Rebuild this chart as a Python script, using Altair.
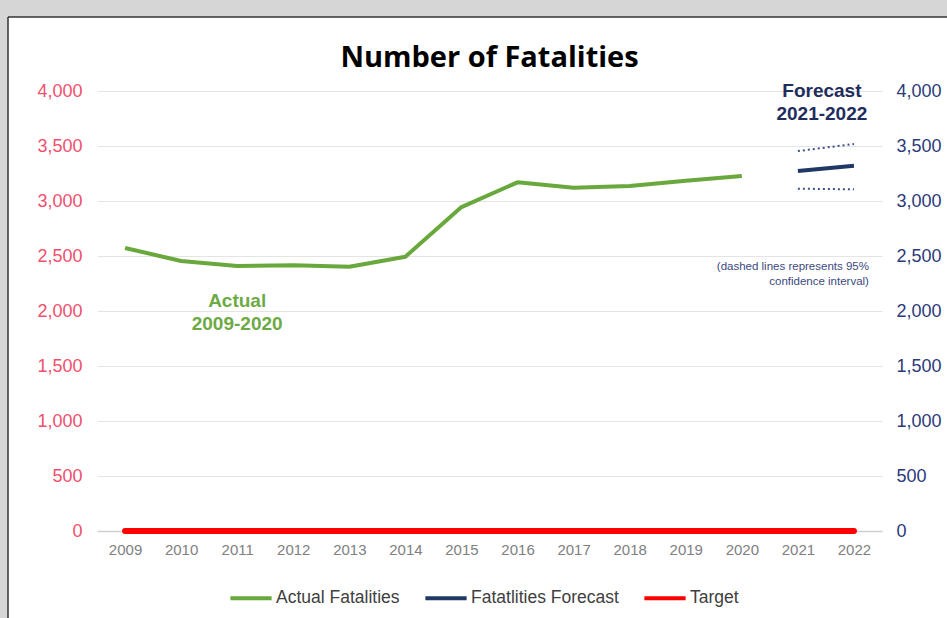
import altair as alt
import pandas as pd

# ---------------- data ----------------
years = [str(y) for y in range(2009, 2023)]
actual_years = years[:12]
actual_values = [2573, 2455, 2409, 2415, 2403, 2494, 2945, 3170, 3121, 3136, 3185, 3227]
forecast_years = ["2021", "2022"]
forecast_values = [3273, 3321]
upper_ci = [3454, 3518]
lower_ci = [3112, 3106]
target_values = [0, 0, 0, 0, 0, 0, 0, 0, 0, 0, 0, 0, 0, 0]
y_ticks = [0, 500, 1000, 1500, 2000, 2500, 3000, 3500, 4000]

series_names = ["Actual Fatalities", "Fatatlities Forecast", "Target"]
series_colors = ["#69A83C", "#1F3864", "#FF0000"]

actual_ann_text = ["Actual", "2009-2020"]
actual_ann_year = ["2011", "2011"]
actual_ann_value = [2091, 1882]

fc_ann_text = ["Forecast", "2021-2022"]
fc_ann_year = ["2021", "2021"]
fc_ann_value = [4000, 3791]

note_text = ["(dashed lines represents 95%", "confidence interval)"]
note_year = ["2022", "2022"]
note_value = [2400, 2264]

# ---------------- tables ----------------
df_actual = pd.DataFrame({"year": actual_years, "value": actual_values, "series": series_names[0]})
df_fc = pd.DataFrame({"year": forecast_years, "value": forecast_values, "series": series_names[1]})
df_target = pd.DataFrame({"year": years, "value": target_values, "series": series_names[2]})
df_ci = pd.concat([
    pd.DataFrame({"year": forecast_years, "value": upper_ci, "band": "upper"}),
    pd.DataFrame({"year": forecast_years, "value": lower_ci, "band": "lower"}),
])
df_ann_a = pd.DataFrame({"year": actual_ann_year, "value": actual_ann_value, "text": actual_ann_text})
df_ann_f = pd.DataFrame({"year": fc_ann_year, "value": fc_ann_value, "text": fc_ann_text})
df_note = pd.DataFrame({"year": note_year, "value": note_value, "text": note_text})

W, H = 785, 440
PL, PT, PR, PB = 97, 91, 65, 87
xscale = alt.Scale(domain=years, type="point", padding=0.5)
yscale = alt.Scale(domain=[0, 4000])

x_axis = alt.Axis(title=None, labelAngle=0, ticks=False, domainColor="#d0d0d0",
                  domainWidth=1.5, labelColor="#808080", labelFontSize=15,
                  labelFont="Liberation Sans", labelPadding=11)
x_enc = alt.X("year:O", scale=xscale, axis=x_axis)

y_left = alt.Y("value:Q", scale=yscale,
               axis=alt.Axis(title=None, values=y_ticks, format=",.0f", ticks=False, domain=False,
                             grid=True, gridColor="#e4e4e4", labelColor="#F0506E",
                             labelFontSize=18, labelFont="Liberation Sans", labelPadding=15))
y_right = alt.Y("value:Q", scale=yscale,
                axis=alt.Axis(title=None, orient="right", values=y_ticks, format=",.0f", ticks=False,
                              domain=False, grid=False, labelColor="#2B3A7A",
                              labelFontSize=18, labelFont="Liberation Sans", labelPadding=14))
y_none = alt.Y("value:Q", scale=yscale, axis=None)

color = alt.Color("series:N", scale=alt.Scale(domain=series_names, range=series_colors),
                  legend=alt.Legend(title=None, orient="none", legendX=131, legendY=484,
                                    direction="horizontal", symbolType="stroke",
                                    symbolSize=1700, symbolStrokeWidth=4, labelFontSize=17.5,
                                    labelFont="Liberation Sans", labelColor="#404040",
                                    labelOffset=2, columnPadding=17))

# decorative screenshot margins (gray strips + dark border lines)
one = pd.DataFrame({"k": [0]})
strip_top = alt.Chart(one).mark_rect(fill="#d6d6d6").encode(
    x=alt.value(-PL), x2=alt.value(W + PR), y=alt.value(-PT), y2=alt.value(-74))
strip_left = alt.Chart(one).mark_rect(fill="#d6d6d6").encode(
    x=alt.value(-PL), x2=alt.value(-89), y=alt.value(-PT), y2=alt.value(H + PB))
border_top = alt.Chart(one).mark_rule(color="#333333", strokeWidth=1.5).encode(
    x=alt.value(-89), x2=alt.value(W + PR), y=alt.value(-74))
border_left = alt.Chart(one).mark_rule(color="#333333", strokeWidth=1.5).encode(
    x=alt.value(-89), y=alt.value(-74), y2=alt.value(H + PB))

actual = alt.Chart(df_actual).mark_line(strokeWidth=4, strokeJoin="round").encode(
    x=x_enc, y=y_left, color=color)
forecast = alt.Chart(df_fc).mark_line(strokeWidth=4).encode(
    x=x_enc, y=y_none, color=color)
ci = alt.Chart(df_ci).mark_line(strokeWidth=2, strokeDash=[2, 3], color="#3C4F8C").encode(
    x=x_enc, y=y_right, detail="band:N")
target = alt.Chart(df_target).mark_line(strokeWidth=6, strokeCap="round").encode(
    x=x_enc, y=y_none, color=color)

ann_a = alt.Chart(df_ann_a).mark_text(fontSize=19, fontWeight="bold", color="#6DAA45",
                                      font="Liberation Sans").encode(
    x=x_enc, y=y_none, text="text:N")
ann_f = alt.Chart(df_ann_f).mark_text(fontSize=19, fontWeight="bold", color="#1F2D5C",
                                      font="Liberation Sans", dx=24).encode(
    x=x_enc, y=y_none, text="text:N")
note = alt.Chart(df_note).mark_text(fontSize=11.5, color="#3B4A7E", align="right",
                                    font="Liberation Sans", dx=15).encode(
    x=x_enc, y=y_none, text="text:N")

chart = alt.layer(strip_top, strip_left, border_top, border_left,
                  actual, forecast, ci, target, ann_a, ann_f, note).resolve_scale(
    y="independent"
).properties(
    width=W, height=H,
    title=alt.TitleParams("Number of Fatalities", fontSize=29, fontWeight="bold",
                          font="Open Sans", color="#000000", anchor="middle",
                          baseline="alphabetic", offset=-96),
    autosize=alt.AutoSizeParams(type="none"),
    padding={"left": PL, "top": PT, "right": PR, "bottom": PB},
    background="white",
).configure_view(stroke=None)

chart.save("out.html", embed_options={"renderer": "svg", "actions": False})
